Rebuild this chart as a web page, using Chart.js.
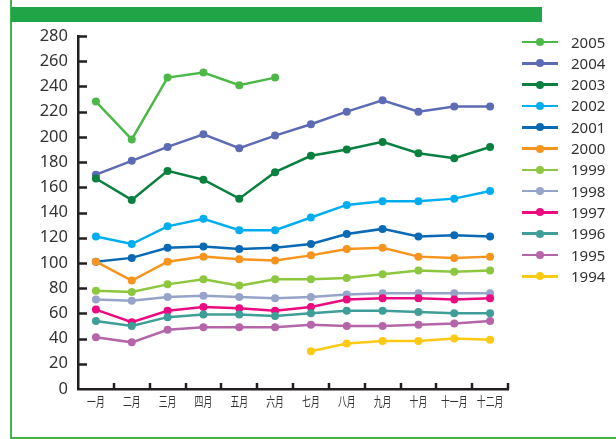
<!DOCTYPE html>
<html>
<head>
<meta charset="utf-8">
<title>月度走势</title>
<script src="https://cdn.jsdelivr.net/npm/chart.js@4/dist/chart.umd.min.js"></script>
<style>
    html, body { margin: 0; padding: 0; background: #fff; }
    #wrap { position: relative; width: 616px; height: 439px; overflow: hidden; }
    .frame { position: absolute; background: #3fb550; }
    #frameLeft { left: 10px; top: 0; width: 2px; height: 439px; }
    #frameBottom { left: 10px; top: 437px; width: 606px; height: 2px; }
    #banner { position: absolute; left: 11px; top: 7px; width: 531px; height: 15px; background: #21a348; }
    #trendChart { position: absolute; left: 0; top: 0; }
    #legend { position: absolute; left: 522px; top: 31.4px; font: 15px "Noto Sans", sans-serif; color: #333; }
    .legend-item { display: flex; align-items: center; height: 21.3px; }
    .legend-mark { position: relative; width: 36px; height: 2.6px; }
    .legend-dot { position: absolute; left: 14px; top: -2.7px; width: 8px; height: 8px; border-radius: 50%; }
    .legend-text { margin-left: 13px; line-height: 1; }
</style>
</head>
<body>
<div id="wrap">
    <div class="frame" id="frameLeft"></div>
    <div class="frame" id="frameBottom"></div>
    <div id="banner"></div>
    <canvas id="trendChart" width="616" height="439"></canvas>
    <div id="legend"></div>
</div>
<script>
// Categories and series
const months = ['一月', '二月', '三月', '四月', '五月', '六月', '七月', '八月', '九月', '十月', '十一月', '十二月'];
const years = ['2005', '2004', '2003', '2002', '2001', '2000', '1999', '1998', '1997', '1996', '1995', '1994'];
const colors = ['#4cb848', '#5d6ab4', '#0a8040', '#00aeef', '#0a69b4', '#f7941d', '#8dc63f', '#96a4c9', '#eb0a80', '#3f9e98', '#b466a8', '#fcc914'];

const s2005 = [228, 198, 247, 251, 241, 247, null, null, null, null, null, null];
const s2004 = [170, 181, 192, 202, 191, 201, 210, 220, 229, 220, 224, 224];
const s2003 = [167, 150, 173, 166, 151, 172, 185, 190, 196, 187, 183, 192];
const s2002 = [121, 115, 129, 135, 126, 126, 136, 146, 149, 149, 151, 157];
const s2001 = [101, 104, 112, 113, 111, 112, 115, 123, 127, 121, 122, 121];
const s2000 = [101, 86, 101, 105, 103, 102, 106, 111, 112, 105, 104, 105];
const s1999 = [78, 77, 83, 87, 82, 87, 87, 88, 91, 94, 93, 94];
const s1998 = [71, 70, 73, 74, 73, 72, 73, 75, 76, 76, 76, 76];
const s1997 = [63, 53, 62, 65, 64, 62, 65, 71, 72, 72, 71, 72];
const s1996 = [54, 50, 57, 59, 59, 58, 60, 62, 62, 61, 60, 60];
const s1995 = [41, 37, 47, 49, 49, 49, 51, 50, 50, 51, 52, 54];
const s1994 = [null, null, null, null, null, null, 30, 36, 38, 38, 40, 39];

const seriesValues = [s2005, s2004, s2003, s2002, s2001, s2000, s1999, s1998, s1997, s1996, s1995, s1994];
const yTicks = [0, 20, 40, 60, 80, 100, 120, 140, 160, 180, 200, 220, 240, 260, 280];

const AXIS_COLOR = '#231f20';

// Inward tick marks on both axes and narrow month labels under the x axis
const axisMarks = {
    id: 'axisMarks',
    beforeDatasetsDraw(chart) {
        const { ctx, chartArea, scales: { x, y } } = chart;
        ctx.save();
        ctx.strokeStyle = AXIS_COLOR;
        ctx.lineWidth = 2.5;
        ctx.beginPath();
        yTicks.forEach(v => {
            if (v === 0) return;
            const py = Math.round(y.getPixelForValue(v)) + 0.5;
            ctx.moveTo(chartArea.left, py);
            ctx.lineTo(chartArea.left + 9, py);
        });
        const half = (x.getPixelForTick(1) - x.getPixelForTick(0)) / 2;
        months.forEach((m, i) => {
            const px = Math.round(x.getPixelForTick(i) + half);
            ctx.moveTo(px, chartArea.bottom);
            ctx.lineTo(px, chartArea.bottom - 6);
        });
        ctx.stroke();

        ctx.fillStyle = '#333';
        ctx.font = '13px "Noto Sans CJK SC"';
        ctx.textAlign = 'center';
        ctx.textBaseline = 'middle';
        months.forEach((m, i) => {
            ctx.save();
            ctx.translate(x.getPixelForTick(i), chartArea.bottom + 12.5);
            ctx.scale(0.68, 1);
            ctx.fillText(m, 0, 0);
            ctx.restore();
        });
        ctx.restore();
    }
};

const datasets = years.map((year, i) => ({
    label: year,
    data: seriesValues[i],
    borderColor: colors[i],
    backgroundColor: colors[i],
    pointBackgroundColor: colors[i],
    borderWidth: 2.5,
    pointRadius: 4,
    pointBorderWidth: 0,
    tension: 0,
    fill: false,
    // older years sit on top of newer ones
    order: years.length - i
}));

new Chart(document.getElementById('trendChart'), {
    type: 'line',
    data: { labels: months, datasets: datasets },
    options: {
        responsive: false,
        animation: false,
        layout: { padding: { top: 36, right: 108, bottom: 0, left: 10 } },
        plugins: {
            legend: { display: false },
            tooltip: { enabled: false }
        },
        scales: {
            x: {
                offset: true,
                grid: { display: false, drawTicks: false },
                border: { display: true, color: AXIS_COLOR, width: 2.5 },
                ticks: { display: false },
                afterFit(scale) { scale.height = 50; }
            },
            y: {
                min: 0,
                max: 280,
                afterBuildTicks(scale) { scale.ticks = yTicks.map(v => ({ value: v })); },
                grid: { display: false, drawTicks: false },
                border: { display: true, color: AXIS_COLOR, width: 2.5 },
                ticks: {
                    padding: 10,
                    color: '#333',
                    font: { family: '"Noto Sans"', size: 16.5 }
                },
                afterFit(scale) { scale.width = 68; }
            }
        }
    },
    plugins: [axisMarks]
});

// Legend: line with a dot, one row per year
const legendBox = document.getElementById('legend');
legendBox.innerHTML = years.map((year, i) => `
    <div class="legend-item">
        <span class="legend-mark" style="background:${colors[i]}"><span class="legend-dot" style="background:${colors[i]}"></span></span>
        <span class="legend-text">${year}</span>
    </div>
`).join('');
</script>
</body>
</html>
